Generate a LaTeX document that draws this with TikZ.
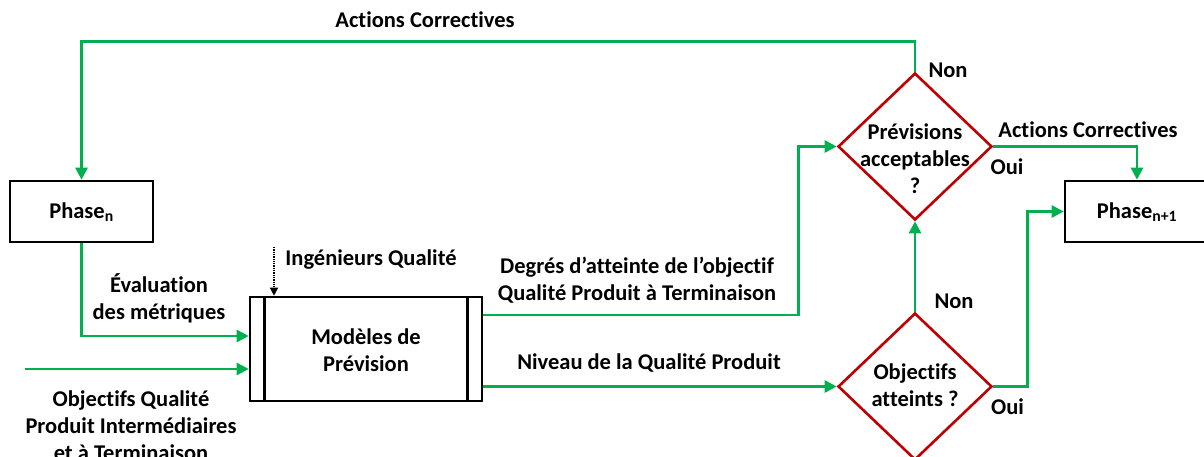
\documentclass[tikz,border=0pt]{standalone}
\usepackage{fontspec}
\setmainfont{Carlito}[Ligatures=CommonOff]
\usetikzlibrary{shapes.geometric,arrows.meta}
\definecolor{gline}{RGB}{0,176,80}
\definecolor{rline}{RGB}{192,0,0}
\begin{document}
\begin{tikzpicture}[x=1pt,y=-1pt,
  txt/.style={font=\bfseries\fontsize{22.5}{27}\selectfont, inner sep=0pt, align=center},
  box/.style={draw=black, line width=2.6pt, inner sep=0pt},
  dia/.style={diamond, draw=rline, line width=2.6pt, minimum width=154pt, minimum height=147pt, inner sep=0pt},
  conn/.style={draw=gline, line width=2.6pt},
  arr/.style={conn, -{Triangle[length=12pt,width=12pt]}}]
\useasboundingbox (0,0) rectangle (1204,457);

% boxes
\node[box, minimum width=143pt, minimum height=61pt] (phn) at (81.5,211.5) {};
\node[txt] (phnt) at (81.5,212) {Phase\textsubscript{n}};
\node[box, minimum width=232pt, minimum height=104pt] (mod) at (366,349) {};
\draw[line width=2.6pt] ([xshift=16pt]mod.north west) -- ([xshift=16pt]mod.south west);
\draw[line width=2.6pt] ([xshift=-16pt]mod.north east) -- ([xshift=-16pt]mod.south east);
\node[txt] (modt) at (366,350) {Modèles de\\Prévision};
\node[box, minimum width=150pt, minimum height=61pt] (phn1) at (1140,211.5) {};
\node[txt] (phn1t) at (1137,212) {Phase\textsubscript{n+1}};

% diamonds
\node[dia] (d1) at (915,146.5) {};
\node[txt] (d1t) at (915,159) {Prévisions\\acceptables\\?};
\node[dia] (d2) at (915,386.5) {};
\node[txt] (d2t) at (915,385.5) {Objectifs\\atteints ?};

% connectors
\draw[arr] (d1.north) -- ++(0,-30) -| (phn.north);
\draw[arr] (phn.south) |- ([yshift=13pt]mod.west);
\coordinate (objin) at (25,369);
\draw[arr] (objin) -- (objin -| mod.west);
\draw[arr] ([yshift=34pt]mod.east) -| ([xshift=-38pt]d1.west) -- (d1.west);
\draw[arr] (mod.east |- d2.west) -- (d2.west);
\draw[arr] (d2.north) -- (d1.south);
\draw[arr] (d2.east) -- ++(34,0) |- (phn1.west);
\draw[arr] (d1.east) -| ([xshift=-3pt]phn1.north);
\coordinate (ing) at (274,247);
\draw[densely dotted, line width=1.3pt, -{Triangle[length=8pt,width=8pt]}] (ing) -- (ing |- mod.north);

% labels
\node[txt] (l1) at (425,20) {Actions Correctives};
\node[txt] (l2) at (948,70) {Non};
\node[txt] (l3) at (1088,130) {Actions Correctives};
\node[txt] (l4) at (1007,167) {Oui};
\node[txt] (l5) at (954,301) {Non};
\node[txt] (l6) at (1007.5,407) {Oui};
\node[txt] (l7) at (371,260) {Ingénieurs Qualité};
\node[txt] (l8) at (159,298.5) {Évaluation\\des métriques};
\node[txt] (l9) at (131,426) {Objectifs Qualité\\Produit Intermédiaires\\et à Terminaison};
\node[txt] (l10) at (637,280) {Degrés d’atteinte de l’objectif\\Qualité Produit à Terminaison};
\node[txt] (l11) at (649,363) {Niveau de la Qualité Produit};
\end{tikzpicture}
\end{document}
